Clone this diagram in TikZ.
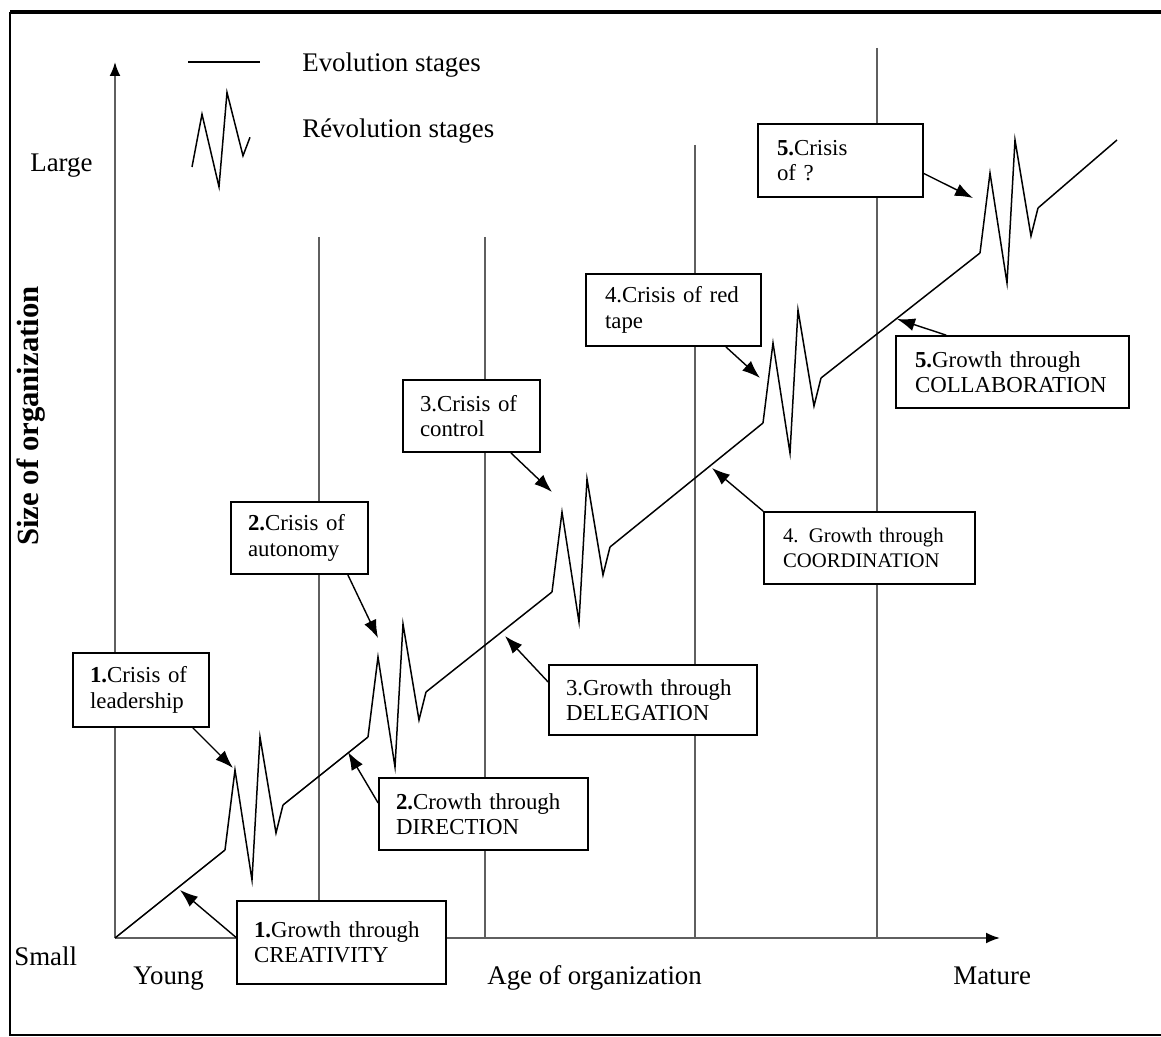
\documentclass[tikz,border=0pt]{standalone}
\usepackage{fontspec}
\setmainfont{Liberation Serif}
\usetikzlibrary{arrows.meta}
\definecolor{axisgray}{RGB}{95,95,95}

% first line of a stage box, spread over the whole width
\newcommand{\spread}[1]{\makebox[\hsize][s]{#1}}

\tikzset{
    stage/.style={draw, line width=1pt, fill=white, inner sep=0pt, align=left,
        font=\fontsize{13}{14.5}\selectfont},
    pointer/.style={-{Latex[length=0.36cm, width=0.26cm]}, line width=0.8pt},
    guide/.style={axisgray, line width=1.1pt},
    curve/.style={line width=0.85pt},
    axistext/.style={inner sep=0pt, anchor=base west, font=\fontsize{15.3}{18}\selectfont},
    revo/.pic={\draw [curve] (0,0) -- (10,-80) -- (27,30) -- (35,-113) -- (51,-17) -- (58,-45);},
}

\begin{document}
\begin{tikzpicture}[x=0.02cm, y=-0.02cm]

    \useasboundingbox (0,0) rectangle (1161,1037);

    % frame
    \draw [line width=2.3pt] (10,12) -- (1161,12);
    \draw [line width=1pt] (10,12) -- (10,1035) -- (1161,1035);

    % axes
    \coordinate (o) at (115,938);
    \coordinate (ytop) at (115,62);
    \coordinate (xend) at (1000,938);
    \draw [guide, -{Latex[color=black, length=0.28cm, width=0.22cm]}] (o) -- (ytop);
    \draw [guide, -{Latex[color=black, length=0.28cm, width=0.22cm]}] (o) -- (xend);

    \foreach \x/\t in {319/237, 485/237, 695/145, 877/48}
        \draw [guide] (\x,\t) -- (\x,938);

    % growth line
    \coordinate (b1) at (225,850);
    \coordinate (b2) at (368,737);
    \coordinate (b3) at (552,592);
    \coordinate (b4) at (763,423);
    \coordinate (b5) at (980,253);
    \coordinate (end) at (1117,140);

    \draw [curve] (o) -- (b1);
    \foreach \a/\b in {b1/b2, b2/b3, b3/b4, b4/b5, b5/end}
        \draw [curve] ([shift={(58,-45)}]\a) -- (\b);
    \foreach \a in {b1, b2, b3, b4, b5}
        \pic at (\a) {revo};

    % legend
    \draw [line width=1pt] (188,62) -- (260,62);
    \pic [yscale=0.66] at (192,167) {revo};
    \node [axistext] (evo) at (302,72) {Evolution stages};
    \node [axistext] (revlegend) at (302,138) {Révolution stages};

    % axis texts
    \node [axistext] (large) at (30,172) {Large};
    \node [axistext] (small) at (14,965) {Small};
    \node [axistext] (young) at (133,984) {Young};
    \node [axistext] (age) at (487,984) {Age of organization};
    \node [axistext] (mature) at (953,984) {Mature};
    \node [rotate=90, inner sep=0pt, font=\bfseries\fontsize{17.5}{20}\selectfont] (size) at (31,416) {Size of organization};

    % stages
    \node [stage, minimum width=2.72cm, minimum height=1.48cm, text width=2.04cm] (crisis1) at (141,690)
        {\spread{\textbf{1.}Crisis of}\\ leadership};
    \node [stage, minimum width=4.18cm, minimum height=1.66cm, text width=3.5cm] (growth1) at (341.5,942.5)
        {\spread{\textbf{1.}Growth through}\\ CREATIVITY};
    \node [stage, minimum width=2.74cm, minimum height=1.44cm, text width=2.06cm] (crisis2) at (299.5,538)
        {\spread{\textbf{2.}Crisis of}\\ autonomy};
    \node [stage, minimum width=4.18cm, minimum height=1.44cm, text width=3.5cm] (growth2) at (483.5,814)
        {\spread{\textbf{2.}Crowth through}\\ DIRECTION};
    \node [stage, minimum width=2.74cm, minimum height=1.44cm, text width=2.06cm] (crisis3) at (471.5,416)
        {\spread{3.Crisis of}\\ control};
    \node [stage, minimum width=4.16cm, minimum height=1.4cm, text width=3.48cm] (growth3) at (653,700)
        {\spread{3.Growth through}\\ DELEGATION};
    \node [stage, minimum width=3.5cm, minimum height=1.44cm, text width=2.74cm] (crisis4) at (673.5,310)
        {\spread{4.Crisis of red}\\ tape};
    \node [stage, minimum width=4.22cm, minimum height=1.44cm, text width=3.46cm,
        font=\fontsize{11.8}{14.5}\selectfont] (growth4) at (869.5,548)
        {\spread{4. Growth through}\\ COORDINATION};
    \node [stage, minimum width=3.3cm, minimum height=1.46cm, text width=2.54cm] (crisis5) at (840.5,160.5)
        {\textbf{5.}Crisis\\ of ?};
    \node [stage, minimum width=4.66cm, minimum height=1.44cm, text width=3.9cm] (growth5) at (1012.5,372)
        {\textbf{5.}Growth through\\ COLLABORATION};

    % pointers
    \coordinate (tc1) at (233,768);
    \coordinate (tg1) at (180,890);
    \coordinate (tc2) at (378,638);
    \coordinate (tg2) at (348,752);
    \coordinate (tc3) at (552,492);
    \coordinate (tg3) at (505,636);
    \coordinate (tc4) at (760,378);
    \coordinate (tg4) at (712,468);
    \coordinate (tc5) at (973,198);
    \coordinate (tg5) at (897,319);

    \draw [pointer] ([shift={(-17,0)}]crisis1.south east) -- (tc1);
    \draw [pointer] ([shift={(0,-5)}]growth1.west) -- (tg1);
    \draw [pointer] ([shift={(-21,0)}]crisis2.south east) -- (tc2);
    \draw [pointer] ([shift={(0,-11)}]growth2.west) -- (tg2);
    \draw [pointer] ([shift={(-30,0)}]crisis3.south east) -- (tc3);
    \draw [pointer] ([shift={(0,-18)}]growth3.west) -- (tg3);
    \draw [pointer] ([shift={(-36,0)}]crisis4.south east) -- (tc4);
    \draw [pointer] (growth4.north west) -- (tg4);
    \draw [pointer] ([shift={(0,13)}]crisis5.east) -- (tc5);
    \draw [pointer] ([shift={(51,0)}]growth5.north west) -- (tg5);

\end{tikzpicture}
\end{document}
